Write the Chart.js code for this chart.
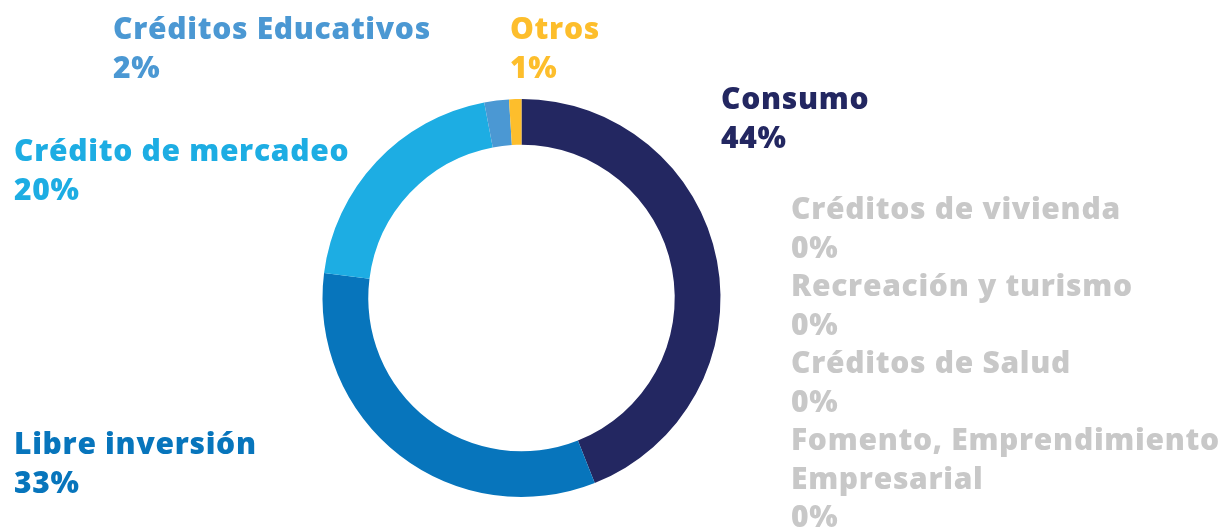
<!DOCTYPE html>
<html>
<head>
<meta charset="utf-8">
<script src="https://cdn.jsdelivr.net/npm/chart.js@4"></script>
<style>
  html, body { margin: 0; padding: 0; background: #fff; }
  #wrap { width: 1222px; height: 527px; position: relative; }
</style>
</head>
<body>
<div id="wrap"><canvas id="donut-chart"></canvas></div>
<script>
const categories = ["Consumo", "Libre inversión", "Crédito de mercadeo", "Créditos Educativos", "Otros",
  "Créditos de vivienda", "Recreación y turismo", "Créditos de Salud", "Fomento, Emprendimiento Empresarial"];
const shares = [44, 33, 20, 2, 1, 0, 0, 0, 0];
const sliceColors = ['#232761', '#0775bc', '#1dade3', '#4b98d3', '#fdbe2c', '#c8c8c8', '#c8c8c8', '#c8c8c8', '#c8c8c8'];

// where each label block starts (left x, baseline of first line) and how its name wraps
const labelSpots = [
  { x: 721, y: 109 },
  { x: 14, y: 454 },
  { x: 14, y: 161 },
  { x: 113, y: 39 },
  { x: 510, y: 39 },
  { x: 791, y: 219 },
  { x: 791, y: 296 },
  { x: 791, y: 373 },
  { x: 791, y: 450 },
];
const wrapAt = { 8: ["Fomento, Emprendimiento", "Empresarial"] };
const lineGap = 38.5;

const labelPlugin = {
  id: 'sliceLabels',
  afterDraw(chart) {
    const ctx = chart.ctx;
    ctx.save();
    ctx.font = '800 30px "Open Sans"';
    ctx.letterSpacing = '0.7px';
    ctx.textAlign = 'left';
    ctx.textBaseline = 'alphabetic';
    categories.forEach((name, i) => {
      const spot = labelSpots[i];
      const lines = (wrapAt[i] || [name]).concat([shares[i] + '%']);
      ctx.fillStyle = sliceColors[i];
      lines.forEach((ln, k) => ctx.fillText(ln, spot.x, spot.y + k * lineGap));
    });
    ctx.restore();
  },
};

new Chart(document.getElementById('donut-chart').getContext('2d'), {
  type: 'doughnut',
  data: {
    labels: categories,
    datasets: [{
      data: shares,
      backgroundColor: sliceColors,
      borderWidth: 0,
    }],
  },
  options: {
    responsive: true,
    maintainAspectRatio: false,
    animation: false,
    cutout: '77%',
    layout: { padding: { left: 322, right: 501, top: 99, bottom: 30 } },
    plugins: { legend: { display: false }, tooltip: { enabled: false } },
  },
  plugins: [labelPlugin],
});
</script>
</body>
</html>
